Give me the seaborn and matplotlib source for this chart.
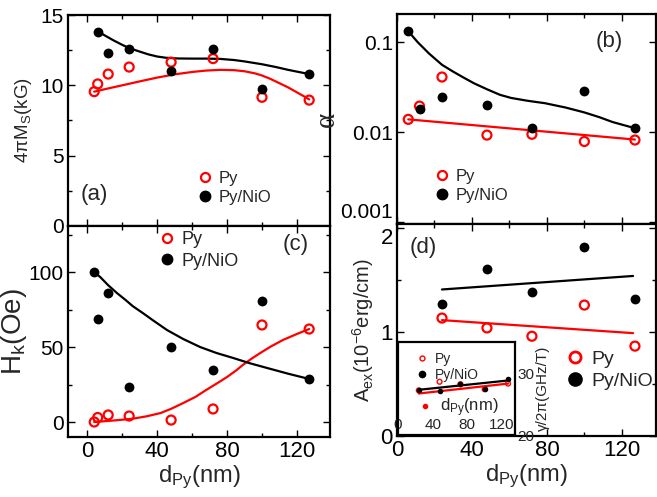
import numpy as np
import pandas as pd
import seaborn as sns
import matplotlib.pyplot as plt
from matplotlib.lines import Line2D
from matplotlib.ticker import MultipleLocator, LogLocator, NullFormatter

# ---- data ----
# (a) saturation magnetisation
t_py_a = [4, 6, 12, 24, 48, 72, 100, 127]
ms_py = [9.55, 10.1, 10.8, 11.3, 11.65, 11.9, 9.15, 8.95]
t_nio_a = [6, 12, 24, 48, 72, 100, 127]
ms_nio = [13.8, 12.3, 12.6, 11.0, 12.6, 9.75, 10.8]
fit_a_py_x = [4, 12, 20, 30, 40, 50, 60, 68, 76, 84, 90, 96, 100, 105, 110, 115, 120, 124, 127]
fit_a_py_y = [9.55, 9.78, 10.0, 10.28, 10.55, 10.78, 10.95, 11.05, 11.1, 11.08, 11.0, 10.85, 10.7, 10.45,
              10.15, 9.85, 9.5, 9.22, 9.0]
fit_a_nio_x = [6, 10, 15, 20, 24, 30, 35, 40, 45, 52, 60, 68, 76, 84, 90, 100, 108, 115, 121, 127]
fit_a_nio_y = [13.85, 13.55, 13.2, 12.88, 12.65, 12.4, 12.2, 12.05, 11.96, 11.91, 11.9, 11.9, 11.88,
               11.8, 11.7, 11.5, 11.3, 11.1, 10.95, 10.8]

# (b) damping
t_b = [6, 12, 24, 48, 72, 100, 127]
alpha_py = [0.0139, 0.0195, 0.041, 0.0093, 0.0095, 0.0079, 0.0082]
alpha_nio = [0.132, 0.018, 0.0245, 0.020, 0.0111, 0.0285, 0.0111]
fit_b_py_x = [6, 127]
fit_b_py_y = [0.0139, 0.0083]
fit_b_nio_x = [6, 11, 17, 24, 30, 35, 41, 48, 55, 61, 70, 79, 90, 100, 108, 115, 121, 127]
fit_b_nio_y = [0.132, 0.1, 0.075, 0.056, 0.047, 0.041, 0.035, 0.030, 0.026, 0.024, 0.0223, 0.021,
               0.0188, 0.0166, 0.0147, 0.013, 0.012, 0.0111]

# (c) anisotropy field
t_c = [4, 6, 12, 24, 48, 72, 100, 127]
hk_py = [0, 3, 4.7, 4, 1.3, 8.7, 64.7, 62]
hk_nio = [100, 68.7, 86, 23.3, 50, 34.7, 81, 28.7]
fit_c_py_x = [4, 15, 26, 34, 42, 48, 55, 62, 68, 74, 80, 85, 89, 94, 99, 105, 112, 120, 127]
fit_c_py_y = [0, 1.0, 2.2, 3.8, 6, 8.8, 12.7, 16.8, 21.3, 25.6, 30, 34.2, 38, 42.2, 46, 50.3, 54.7,
              58.7, 62]
fit_c_nio_x = [4, 7.4, 12, 17, 22, 26, 32, 38, 45.7, 55, 64.6, 74, 83.5, 93, 103, 115, 127]
fit_c_nio_y = [100, 96.7, 91.2, 86, 81.3, 77.3, 72.5, 67.5, 61.3, 55.3, 50, 46, 42.7, 39.2, 36, 32.2,
               28.7]

# (d) exchange stiffness
t_d = [24, 48, 72, 100, 127]
aex_py = [1.135, 1.04, 0.96, 1.26, 0.865]
aex_nio = [1.27, 1.61, 1.385, 1.82, 1.32]
fit_d_x = [24, 126]
fit_d_py_y = [1.115, 0.99]
fit_d_nio_y = [1.41, 1.54]

# inset: gyromagnetic ratio
t_in = [24, 48, 72, 100, 127]
gamma_py = [27.2, 28.6, 28.2, 27.4, 28.3]
gamma_nio = [27.3, 27.1, 28.3, 27.5, 29.0]
fit_in_x = [24, 127]
fit_in_py_y = [26.7, 28.3]
fit_in_nio_y = [27.3, 28.8]

sns.set_theme(style="ticks")
plt.rcParams['font.family'] = ['Liberation Sans', 'DejaVu Sans']
plt.rcParams['mathtext.fontset'] = 'custom'
plt.rcParams['mathtext.rm'] = 'Liberation Sans'
plt.rcParams['mathtext.it'] = 'Liberation Sans:italic'
plt.rcParams['mathtext.default'] = 'regular'

fig = plt.figure(figsize=(6.57, 4.97), dpi=100)
ax_a = fig.add_axes([0.1035, 0.5453, 0.399, 0.4245])
ax_c = fig.add_axes([0.1035, 0.1207, 0.399, 0.4246])
ax_b = fig.add_axes([0.6043, 0.5493, 0.3935, 0.4225])
ax_d = fig.add_axes([0.6043, 0.1227, 0.3935, 0.4266])

RED_S, BLK_S = 42, 50


def points(ax, x, y, kind, s=None):
    if kind == 'py':
        sns.scatterplot(x=x, y=y, ax=ax, s=s or RED_S, facecolors='none',
                        edgecolors='red', linewidth=1.6, zorder=3)
    else:
        sns.scatterplot(x=x, y=y, ax=ax, s=s or BLK_S, color='black',
                        edgecolor='black', linewidth=0, zorder=3)


def fit(ax, x, y, color):
    sns.lineplot(x=x, y=y, ax=ax, color=color, linewidth=1.6, errorbar=None,
                 zorder=2)


def style(ax, size=15):
    for sp in ax.spines.values():
        sp.set_linewidth(1.6)
        sp.set_color('black')
    ax.tick_params(which='both', direction='in', top=True, right=True,
                   labelsize=size, width=1, colors='black', pad=3)
    ax.tick_params(which='major', length=5)
    ax.tick_params(which='minor', length=3)


def handles(ms_red=6.5, ms_blk=7.5, mew=1.6):
    h_py = Line2D([], [], marker='o', linestyle='', markerfacecolor='none',
                  markeredgecolor='red', markeredgewidth=mew, markersize=ms_red)
    h_nio = Line2D([], [], marker='o', linestyle='', color='black',
                   markersize=ms_blk)
    return [h_py, h_nio]


def legend(ax, anchor, size=12, h=None):
    ax.legend(handles=h or handles(), labels=['Py', 'Py/NiO'], loc='lower left',
              bbox_to_anchor=anchor, frameon=False, fontsize=size,
              handletextpad=0.3, borderpad=0, labelspacing=0.25,
              handlelength=1.0)


# (a)
fit(ax_a, fit_a_py_x, fit_a_py_y, 'red')
fit(ax_a, fit_a_nio_x, fit_a_nio_y, 'black')
points(ax_a, t_py_a, ms_py, 'py')
points(ax_a, t_nio_a, ms_nio, 'nio')
ax_a.set_xlim(-11, 139)
ax_a.set_ylim(0, 15)
ax_a.set_xticks([0, 40, 80, 120])
ax_a.xaxis.set_minor_locator(MultipleLocator(20))
ax_a.yaxis.set_minor_locator(MultipleLocator(2.5))
ax_a.set_yticks([0, 5, 10, 15])
ax_a.set_xticklabels([])
ax_a.set_ylabel('4πM$_\\mathrm{S}$(kG)', fontsize=13.5, labelpad=5)
ax_a.text(0.05, 0.15, '(a)', transform=ax_a.transAxes, fontsize=16, va='center')
style(ax_a)
legend(ax_a, (0.46, 0.06))

# (b)
fit(ax_b, fit_b_py_x, fit_b_py_y, 'red')
fit(ax_b, fit_b_nio_x, fit_b_nio_y, 'black')
points(ax_b, t_b, alpha_py, 'py')
points(ax_b, t_b, alpha_nio, 'nio')
ax_b.set_yscale('log')
ax_b.set_xlim(0, 138)
ax_b.set_ylim(0.00096, 0.205)
ax_b.set_xticks([0, 40, 80, 120])
ax_b.xaxis.set_minor_locator(MultipleLocator(20))
ax_b.set_yticks([0.001, 0.01, 0.1])
ax_b.set_yticklabels(['0.001', '0.01', '0.1'])
ax_b.yaxis.set_minor_locator(LogLocator(subs=[]))
ax_b.yaxis.set_minor_formatter(NullFormatter())
ax_b.set_xticklabels([])
ax_b.set_ylabel('α', fontsize=21, family='Liberation Serif', labelpad=0)
ax_b.text(0.77, 0.87, '(b)', transform=ax_b.transAxes, fontsize=16, va='center')
style(ax_b)
ax_b.get_yticklabels()[0].set_va('bottom')
legend(ax_b, (0.11, 0.06))

# (c)
fit(ax_c, fit_c_py_x, fit_c_py_y, 'red')
fit(ax_c, fit_c_nio_x, fit_c_nio_y, 'black')
points(ax_c, t_c, hk_py, 'py')
points(ax_c, t_c, hk_nio, 'nio')
ax_c.set_xlim(-11, 139)
ax_c.set_ylim(-10, 130.7)
ax_c.set_xticks([0, 40, 80, 120])
ax_c.xaxis.set_minor_locator(MultipleLocator(20))
ax_c.set_yticks([0, 50, 100])
ax_c.yaxis.set_minor_locator(MultipleLocator(25))
ax_c.set_xlabel('d$_\\mathrm{Py}$(nm)', fontsize=17, labelpad=1)
ax_c.set_ylabel('H$_\\mathrm{k}$(Oe)', fontsize=20, labelpad=0)
ax_c.text(0.82, 0.91, '(c)', transform=ax_c.transAxes, fontsize=16, va='center')
style(ax_c, 15)
ax_c.tick_params(axis='x', labelsize=16)
legend(ax_c, (0.31, 0.75), size=13)

# (d)
fit(ax_d, fit_d_x, fit_d_py_y, 'red')
fit(ax_d, fit_d_x, fit_d_nio_y, 'black')
points(ax_d, t_d, aex_py, 'py')
points(ax_d, t_d, aex_nio, 'nio')
ax_d.set_xlim(0, 138)
ax_d.set_ylim(0, 2.04)
ax_d.set_xticks([0, 40, 80, 120])
ax_d.xaxis.set_minor_locator(MultipleLocator(20))
ax_d.set_yticks([0, 1, 2])
ax_d.yaxis.set_minor_locator(MultipleLocator(0.5))
ax_d.set_xlabel('d$_\\mathrm{Py}$(nm)', fontsize=17, labelpad=1)
ax_d.set_ylabel('A$_\\mathrm{ex}$(10$^{-6}$erg/cm)', fontsize=14.5, labelpad=3)
ax_d.text(0.05, 0.89, '(d)', transform=ax_d.transAxes, fontsize=16, va='center')
style(ax_d, 16)
ax_d.get_yticklabels()[2].set_va('top')
legend(ax_d, (0.615, 0.17), size=14, h=handles(8, 9.5, 2.0))

# inset in (d)
ax_in = fig.add_axes([0.6058, 0.1247, 0.178, 0.187])
fit(ax_in, fit_in_x, fit_in_py_y, 'red')
fit(ax_in, fit_in_x, fit_in_nio_y, 'black')
sns.scatterplot(x=t_in, y=gamma_py, ax=ax_in, s=12, facecolors='none',
                edgecolors='red', linewidth=1.0, zorder=3)
sns.scatterplot(x=t_in, y=gamma_nio, ax=ax_in, s=16, color='black',
                linewidth=0, zorder=3)
ax_in.set_xlim(0, 135)
ax_in.set_ylim(20, 35)
ax_in.set_xticks([0, 40, 80, 120])
ax_in.set_yticks([20, 30])
ax_in.yaxis.tick_right()
ax_in.yaxis.set_label_position('right')
ax_in.tick_params(axis='x', direction='in', pad=-12, labelsize=11, length=0)
ax_in.tick_params(axis='y', direction='in', labelsize=11, length=0, pad=2)
ax_in.set_ylabel('γ/2π(GHz/T)', fontsize=11, labelpad=1)
for sp in ax_in.spines.values():
    sp.set_linewidth(1.6)
    sp.set_color('black')
leg = ax_in.legend(handles=handles(3.5, 4.5, 1.0), labels=['Py', 'Py/NiO'],
                   loc='upper left', bbox_to_anchor=(0.1, 0.97), frameon=False,
                   fontsize=10, handletextpad=0.5, borderpad=0, labelspacing=0.15,
                   handlelength=0.8)
ax_in.add_artist(leg)
dot = Line2D([], [], marker='o', color='red', linestyle='', markersize=3)
ax_in.legend(handles=[dot], labels=['d$_\\mathrm{Py}$(nm)'], loc='upper left',
             bbox_to_anchor=(0.1, 0.50), frameon=False, fontsize=12,
             handletextpad=0.5, borderpad=0, handlelength=0.8)

fig.savefig('out.png', dpi=100)
